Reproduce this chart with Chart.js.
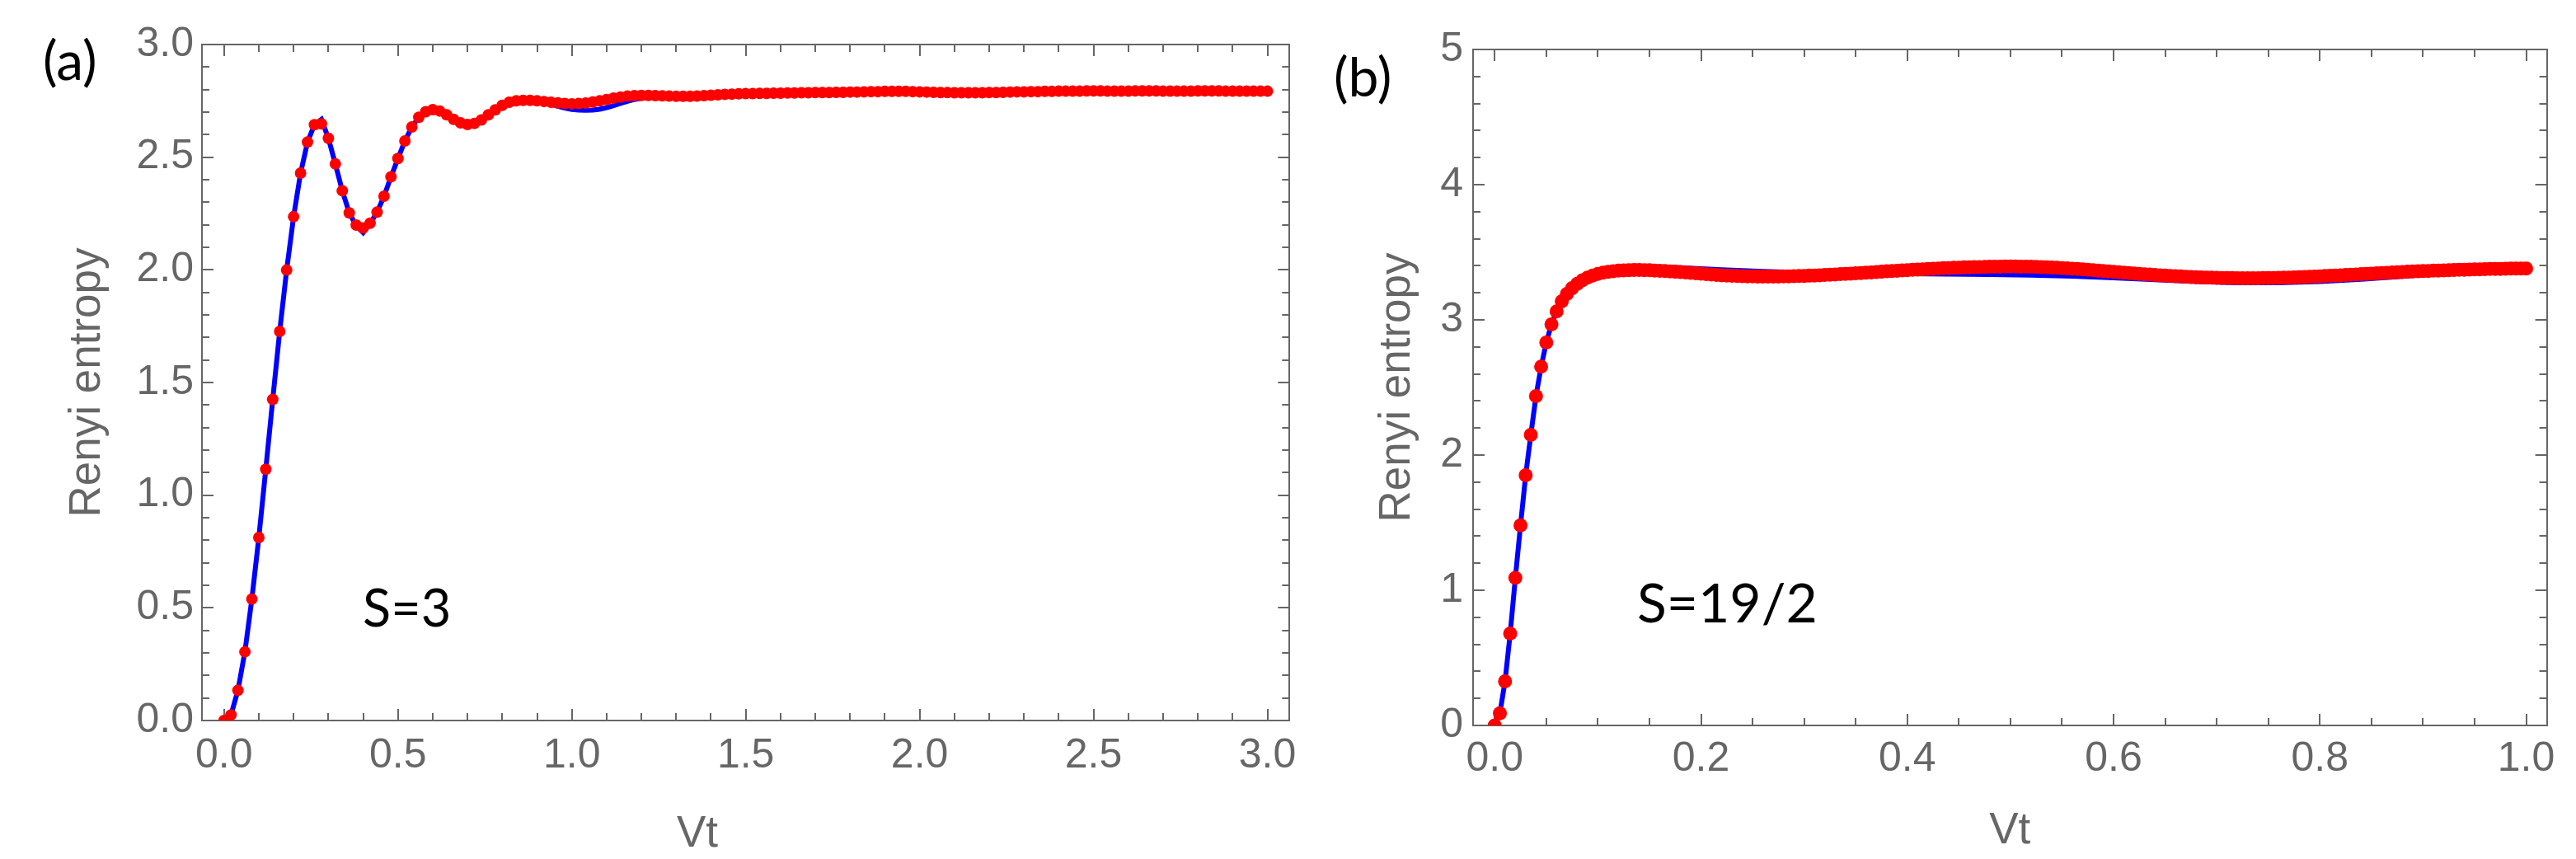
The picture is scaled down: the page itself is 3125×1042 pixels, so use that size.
<!DOCTYPE html>
<html>
<head>
<meta charset="utf-8">
<title>Renyi entropy vs Vt</title>
<script src="https://cdn.jsdelivr.net/npm/chart.js@4.4.1/dist/chart.umd.min.js"></script>
<style>
  html, body { margin: 0; padding: 0; background: #fff; }
  body { position: relative; width: 3125px; height: 1042px; overflow: hidden; }
  canvas { position: absolute; top: 0; }
</style>
</head>
<body>
<canvas id="chartA" width="1600" height="1042" style="left:0px"></canvas>
<canvas id="chartB" width="1525" height="1042" style="left:1600px"></canvas>
<script>
// ---- panel (a): S=3 ----
const vtA = [
  0, 0.02, 0.04, 0.06, 0.08, 0.1, 0.12, 0.14, 0.16, 0.18,
  0.2, 0.22, 0.24, 0.26, 0.28, 0.3, 0.32, 0.34, 0.36, 0.38,
  0.4, 0.42, 0.44, 0.46, 0.48, 0.5, 0.52, 0.54, 0.56, 0.58,
  0.6, 0.62, 0.64, 0.66, 0.68, 0.7, 0.72, 0.74, 0.76, 0.78,
  0.8, 0.82, 0.84, 0.86, 0.88, 0.9, 0.92, 0.94, 0.96, 0.98,
  1.0, 1.02, 1.04, 1.06, 1.08, 1.1, 1.12, 1.14, 1.16, 1.18,
  1.2, 1.22, 1.24, 1.26, 1.28, 1.3, 1.32, 1.34, 1.36, 1.38,
  1.4, 1.42, 1.44, 1.46, 1.48, 1.5, 1.52, 1.54, 1.56, 1.58,
  1.6, 1.62, 1.64, 1.66, 1.68, 1.7, 1.72, 1.74, 1.76, 1.78,
  1.8, 1.82, 1.84, 1.86, 1.88, 1.9, 1.92, 1.94, 1.96, 1.98,
  2.0, 2.02, 2.04, 2.06, 2.08, 2.1, 2.12, 2.14, 2.16, 2.18,
  2.2, 2.22, 2.24, 2.26, 2.28, 2.3, 2.32, 2.34, 2.36, 2.38,
  2.4, 2.42, 2.44, 2.46, 2.48, 2.5, 2.52, 2.54, 2.56, 2.58,
  2.6, 2.62, 2.64, 2.66, 2.68, 2.7, 2.72, 2.74, 2.76, 2.78,
  2.8, 2.82, 2.84, 2.86, 2.88, 2.9, 2.92, 2.94, 2.96, 2.98,
  3.0
];
// red dots (numerical)
const dotsA = [
  0, 0.025, 0.134, 0.305, 0.539, 0.812, 1.115, 1.425, 1.727, 1.999,
  2.236, 2.429, 2.567, 2.644, 2.648, 2.584, 2.470, 2.351, 2.253, 2.199,
  2.186, 2.207, 2.256, 2.327, 2.413, 2.494, 2.572, 2.634, 2.677, 2.702,
  2.711, 2.705, 2.688, 2.668, 2.652, 2.645, 2.650, 2.665, 2.688, 2.710,
  2.730, 2.744, 2.750, 2.752, 2.752, 2.750, 2.747, 2.744, 2.741, 2.738,
  2.737, 2.738, 2.740, 2.745, 2.750, 2.756, 2.762, 2.767, 2.771, 2.773,
  2.774, 2.774, 2.773, 2.772, 2.771, 2.770, 2.770, 2.770, 2.771, 2.773,
  2.775, 2.777, 2.779, 2.780, 2.781, 2.782, 2.782, 2.783, 2.783, 2.784,
  2.784, 2.785, 2.785, 2.786, 2.786, 2.787, 2.787, 2.787, 2.788, 2.788,
  2.789, 2.789, 2.790, 2.791, 2.791, 2.792, 2.792, 2.792, 2.792, 2.791,
  2.790, 2.789, 2.788, 2.787, 2.787, 2.786, 2.786, 2.786, 2.786, 2.786,
  2.787, 2.787, 2.788, 2.789, 2.790, 2.790, 2.791, 2.791, 2.792, 2.792,
  2.793, 2.793, 2.793, 2.793, 2.794, 2.794, 2.794, 2.793, 2.793, 2.793,
  2.793, 2.794, 2.794, 2.794, 2.794, 2.793, 2.793, 2.793, 2.793, 2.793,
  2.794, 2.794, 2.794, 2.794, 2.793, 2.793, 2.793, 2.793, 2.793, 2.793,
  2.793
];
// blue curve (exact)
const lineVtA = [
  0, 0.02, 0.04, 0.06, 0.08, 0.1, 0.12, 0.14, 0.16, 0.18,
  0.2, 0.22, 0.24, 0.26, 0.28, 0.3, 0.32, 0.34, 0.36, 0.38,
  0.4, 0.42, 0.44, 0.46, 0.48, 0.5, 0.52, 0.54, 0.56, 0.58,
  0.6, 0.62, 0.64, 0.66, 0.68, 0.7, 0.72, 0.74, 0.76, 0.78,
  0.8, 0.82, 0.84, 0.86, 0.88, 0.9, 0.92, 0.94, 0.96, 0.98,
  1.0, 1.02, 1.04, 1.06, 1.08, 1.1, 1.12, 1.14, 1.16, 1.18,
  1.2, 1.22, 1.24, 1.26, 1.28, 1.3, 1.32, 1.34, 1.36, 1.38,
  1.4, 1.42, 1.44, 1.46, 1.48, 1.5,
  1.6, 1.7, 1.8, 1.9, 2.0, 2.1, 2.2, 2.3, 2.4, 2.5, 2.6, 2.7, 2.8, 2.9, 3.0
];
const lineA = [
  0, 0.025, 0.134, 0.305, 0.539, 0.812, 1.115, 1.425, 1.727, 1.999,
  2.236, 2.429, 2.567, 2.645, 2.668, 2.584, 2.470, 2.351, 2.253, 2.195,
  2.165, 2.205, 2.256, 2.327, 2.413, 2.494, 2.572, 2.634, 2.677, 2.702,
  2.711, 2.705, 2.688, 2.668, 2.652, 2.645, 2.650, 2.665, 2.688, 2.710,
  2.730, 2.744, 2.750, 2.752, 2.751, 2.748, 2.742, 2.734, 2.726, 2.718,
  2.712, 2.709, 2.708, 2.709, 2.713, 2.720, 2.729, 2.739, 2.748, 2.756,
  2.762, 2.765, 2.766, 2.765, 2.763, 2.761, 2.760, 2.760, 2.762, 2.765,
  2.769, 2.773, 2.777, 2.779, 2.781, 2.782,
  2.784, 2.787, 2.789, 2.792, 2.790, 2.786, 2.787, 2.790, 2.793, 2.793, 2.793, 2.793, 2.793, 2.793, 2.793
];
const xTicksA = [0, 0.5, 1, 1.5, 2, 2.5, 3];
const xLabelsA = ['0.0', '0.5', '1.0', '1.5', '2.0', '2.5', '3.0'];
const yTicksA = [0, 0.5, 1, 1.5, 2, 2.5, 3];
const yLabelsA = ['0.0', '0.5', '1.0', '1.5', '2.0', '2.5', '3.0'];

// ---- panel (b): S=19/2 ----
const vtB = [
  0, 0.005, 0.01, 0.015, 0.02, 0.025, 0.03, 0.035, 0.04, 0.045, 0.05, 0.055, 0.06, 0.065, 0.07, 0.075, 0.08, 0.085, 0.09, 0.095,
  0.1, 0.105, 0.11, 0.115, 0.12, 0.125, 0.13, 0.135, 0.14, 0.145, 0.15, 0.155, 0.16, 0.165, 0.17, 0.175, 0.18, 0.185, 0.19, 0.195,
  0.2, 0.205, 0.21, 0.215, 0.22, 0.225, 0.23, 0.235, 0.24, 0.245, 0.25, 0.255, 0.26, 0.265, 0.27, 0.275, 0.28, 0.285, 0.29, 0.295,
  0.3, 0.305, 0.31, 0.315, 0.32, 0.325, 0.33, 0.335, 0.34, 0.345, 0.35, 0.355, 0.36, 0.365, 0.37, 0.375, 0.38, 0.385, 0.39, 0.395,
  0.4, 0.405, 0.41, 0.415, 0.42, 0.425, 0.43, 0.435, 0.44, 0.445, 0.45, 0.455, 0.46, 0.465, 0.47, 0.475, 0.48, 0.485, 0.49, 0.495,
  0.5, 0.505, 0.51, 0.515, 0.52, 0.525, 0.53, 0.535, 0.54, 0.545, 0.55, 0.555, 0.56, 0.565, 0.57, 0.575, 0.58, 0.585, 0.59, 0.595,
  0.6, 0.605, 0.61, 0.615, 0.62, 0.625, 0.63, 0.635, 0.64, 0.645, 0.65, 0.655, 0.66, 0.665, 0.67, 0.675, 0.68, 0.685, 0.69, 0.695,
  0.7, 0.705, 0.71, 0.715, 0.72, 0.725, 0.73, 0.735, 0.74, 0.745, 0.75, 0.755, 0.76, 0.765, 0.77, 0.775, 0.78, 0.785, 0.79, 0.795,
  0.8, 0.805, 0.81, 0.815, 0.82, 0.825, 0.83, 0.835, 0.84, 0.845, 0.85, 0.855, 0.86, 0.865, 0.87, 0.875, 0.88, 0.885, 0.89, 0.895,
  0.9, 0.905, 0.91, 0.915, 0.92, 0.925, 0.93, 0.935, 0.94, 0.945, 0.95, 0.955, 0.96, 0.965, 0.97, 0.975, 0.98, 0.985, 0.99, 0.995,
  1.0
];
const dotsB = [
  0, 0.09, 0.326, 0.68, 1.092, 1.48, 1.85, 2.15, 2.436, 2.654, 2.832, 2.966, 3.063, 3.137, 3.192, 3.234, 3.267, 3.293, 3.313, 3.328,
  3.340, 3.349, 3.355, 3.360, 3.364, 3.366, 3.368, 3.369, 3.369, 3.368, 3.367, 3.365, 3.363, 3.361, 3.358, 3.356, 3.353, 3.350, 3.347, 3.344,
  3.341, 3.338, 3.335, 3.332, 3.330, 3.328, 3.326, 3.324, 3.323, 3.322, 3.321, 3.320, 3.320, 3.320, 3.320, 3.320, 3.321, 3.322, 3.323, 3.324,
  3.325, 3.327, 3.328, 3.330, 3.332, 3.334, 3.336, 3.338, 3.340, 3.342, 3.344, 3.346, 3.349, 3.351, 3.354, 3.356, 3.359, 3.361, 3.363, 3.366,
  3.368, 3.370, 3.372, 3.374, 3.376, 3.378, 3.380, 3.382, 3.383, 3.385, 3.386, 3.388, 3.389, 3.390, 3.391, 3.392, 3.393, 3.394, 3.394, 3.395,
  3.395, 3.395, 3.394, 3.394, 3.393, 3.392, 3.391, 3.389, 3.387, 3.385, 3.383, 3.381, 3.378, 3.376, 3.373, 3.370, 3.367, 3.364, 3.361, 3.358,
  3.355, 3.352, 3.349, 3.346, 3.343, 3.340, 3.337, 3.335, 3.332, 3.330, 3.327, 3.325, 3.323, 3.321, 3.319, 3.317, 3.316, 3.314, 3.313, 3.312,
  3.311, 3.310, 3.309, 3.309, 3.308, 3.308, 3.308, 3.308, 3.308, 3.309, 3.309, 3.310, 3.311, 3.312, 3.313, 3.314, 3.316, 3.317, 3.319, 3.320,
  3.322, 3.324, 3.326, 3.328, 3.330, 3.332, 3.334, 3.336, 3.338, 3.340, 3.342, 3.344, 3.346, 3.348, 3.350, 3.352, 3.354, 3.356, 3.358, 3.359,
  3.361, 3.362, 3.364, 3.365, 3.366, 3.368, 3.369, 3.370, 3.371, 3.372, 3.373, 3.374, 3.375, 3.376, 3.377, 3.377, 3.378, 3.379, 3.379, 3.380,
  3.380
];
const lineVtB = [
  0, 0.005, 0.01, 0.015, 0.02, 0.025, 0.03, 0.035, 0.04, 0.045, 0.05, 0.055, 0.06, 0.065, 0.07,
  0.08, 0.09, 0.1, 0.12, 0.14, 0.16, 0.18, 0.2, 0.22, 0.24, 0.26, 0.28, 0.3, 0.32, 0.34, 0.36, 0.38, 0.4,
  0.44, 0.48, 0.52, 0.56, 0.6, 0.64, 0.68, 0.72, 0.76, 0.8, 0.84, 0.88, 0.92, 0.96, 1.0
];
const lineB = [
  0, 0.09, 0.326, 0.68, 1.092, 1.48, 1.85, 2.15, 2.436, 2.654, 2.832, 2.966, 3.063, 3.137, 3.195,
  3.272, 3.322, 3.352, 3.381, 3.390, 3.390, 3.385, 3.378, 3.371, 3.364, 3.358, 3.353, 3.349, 3.346, 3.344, 3.343, 3.342, 3.341,
  3.339, 3.336, 3.331, 3.323, 3.311, 3.297, 3.284, 3.275, 3.274, 3.283, 3.300, 3.322, 3.344, 3.363, 3.378
];
const xTicksB = [0, 0.2, 0.4, 0.6, 0.8, 1.0];
const xLabelsB = ['0.0', '0.2', '0.4', '0.6', '0.8', '1.0'];
const yTicksB = [0, 1, 2, 3, 4, 5];
const yLabelsB = ['0', '1', '2', '3', '4', '5'];

const GRAY = '#666666';
const RED = '#ff0000';
const BLUE = '#0000ff';
const SANS = "'Liberation Sans', Arial, sans-serif";
Chart.defaults.font.family = SANS;

// minor tick positions between the labelled ones
function steps(from, to, step) {
  const out = [];
  const n = Math.round((to - from) / step);
  for (let i = 0; i <= n; i++) out.push(Math.round((from + i * step) * 1000) / 1000);
  return out;
}

// one tick row (Mathematica style: ticks point into the frame)
function tickScale(o) {
  return {
    type: 'linear',
    position: o.position,
    weight: o.weight,
    bounds: 'data',
    min: o.min,
    max: o.max,
    afterBuildTicks: s => { s.ticks = o.values.map(v => ({ value: v })); },
    afterFit: s => { if (s.isHorizontal()) s.height = o.size; else s.width = o.size; },
    grid: {
      display: true, drawOnChartArea: false, drawTicks: true,
      tickLength: -o.len, tickColor: GRAY, tickWidth: 2, color: GRAY, lineWidth: 2
    },
    border: { display: !!o.border, color: GRAY, width: 2 },
    ticks: o.labels ? {
      display: true, autoSkip: false, maxRotation: 0, minRotation: 0,
      color: GRAY, font: { family: SANS, size: 50 }, padding: o.pad,
      callback: (v, i) => o.labels[i]
    } : { display: false },
    title: o.title ? {
      display: true, text: o.title, color: GRAY,
      font: { family: SANS, size: 53 }, padding: o.titlePad
    } : { display: false }
  };
}

function frame(p) {
  return {
    x:   tickScale({ position: 'bottom', weight: 1, min: p.xMin, max: p.xMax, values: p.xMajor, len: 14, size: p.bottom, border: true, labels: p.xLabels, pad: p.xPad, title: p.xTitle, titlePad: { top: 0, bottom: 2 } }),
    xm:  tickScale({ position: 'bottom', weight: 0, min: p.xMin, max: p.xMax, values: p.xMinor, len: 9, size: 0 }),
    xt:  tickScale({ position: 'top', weight: 1, min: p.xMin, max: p.xMax, values: p.xMajor, len: 14, size: p.top, border: true }),
    xtm: tickScale({ position: 'top', weight: 0, min: p.xMin, max: p.xMax, values: p.xMinor, len: 9, size: 0 }),
    y:   tickScale({ position: 'left', weight: 1, min: p.yMin, max: p.yMax, values: p.yMajor, len: 14, size: p.left, border: true, labels: p.yLabels, pad: p.yPad, title: 'Renyi entropy', titlePad: { top: p.yTitlePad, bottom: 0 } }),
    ym:  tickScale({ position: 'left', weight: 0, min: p.yMin, max: p.yMax, values: p.yMinor, len: 9, size: 0 }),
    yr:  tickScale({ position: 'right', weight: 1, min: p.yMin, max: p.yMax, values: p.yMajor, len: 14, size: p.right, border: true }),
    yrm: tickScale({ position: 'right', weight: 0, min: p.yMin, max: p.yMax, values: p.yMinor, len: 9, size: 0 })
  };
}

// panel letters, spin labels (and the shifted Vt of panel a)
const notesPlugin = {
  id: 'notes',
  afterDraw(chart, args, opts) {
    const ctx = chart.ctx;
    ctx.save();
    ctx.textBaseline = 'alphabetic';
    (opts.items || []).forEach(n => {
      ctx.fillStyle = n.color || '#000';
      ctx.textAlign = n.align || 'left';
      ctx.font = n.size + 'px ' + (n.family || 'Lato, "Open Sans", sans-serif');
      ctx.fillText(n.text, n.x, n.y);
    });
    ctx.restore();
  }
};

function makeChart(id, p) {
  const dots = p.dotX.map((t, i) => ({ x: t, y: p.dotY[i] }));
  const line = p.lineX.map((t, i) => ({ x: t, y: p.lineY[i] }));
  return new Chart(document.getElementById(id), {
    type: 'scatter',
    data: {
      datasets: [
        { label: 'numerical', data: dots, showLine: false, order: 0, clip: 0,
          pointRadius: p.dotR, pointHoverRadius: p.dotR, pointBorderWidth: 0,
          pointBackgroundColor: RED, backgroundColor: RED, borderColor: RED },
        { label: 'exact', data: line, showLine: true, order: 1, clip: 0,
          pointRadius: 0, borderColor: BLUE, backgroundColor: BLUE, borderWidth: 6, tension: 0 }
      ]
    },
    options: {
      responsive: false,
      animation: false,
      devicePixelRatio: 1,
      events: [],
      layout: { padding: 0, autoPadding: false },
      plugins: {
        legend: { display: false },
        tooltip: { enabled: false },
        notes: { items: p.notes }
      },
      scales: frame(p)
    },
    plugins: [notesPlugin]
  });
}

makeChart('chartA', {
  dotX: vtA, dotY: dotsA, lineX: lineVtA, lineY: lineA, dotR: 7,
  xMin: -0.0635, xMax: 3.0635, yMin: 0, yMax: 3,
  xMajor: xTicksA, xLabels: xLabelsA, xMinor: steps(0, 3, 0.1),
  yMajor: yTicksA, yLabels: yLabelsA, yMinor: steps(0, 3, 0.1),
  left: 245, right: 26, top: 52, bottom: 168,
  xPad: 27, yPad: 24, yTitlePad: 75, xTitle: '',
  notes: [
    { text: '(a)', x: 52, y: 97, size: 66 },
    { text: 'S=3', x: 440, y: 760, size: 63 },
    { text: 'Vt', x: 846, y: 1027, size: 53, align: 'center', color: GRAY, family: SANS }
  ]
});

makeChart('chartB', {
  dotX: vtB, dotY: dotsB, lineX: lineVtB, lineY: lineB, dotR: 8.5,
  xMin: -0.021, xMax: 1.02, yMin: 0, yMax: 5,
  xMajor: xTicksB, xLabels: xLabelsB, xMinor: steps(0, 1, 0.05),
  yMajor: yTicksB, yLabels: yLabelsB, yMinor: steps(0, 5, 0.2),
  left: 187, right: 12, top: 60, bottom: 162,
  xPad: 25, yPad: 26, yTitlePad: 64, xTitle: 'Vt',
  notes: [
    { text: '(b)', x: 18, y: 117, size: 66 },
    { text: 'S=19/2', x: 386, y: 755, size: 66 }
  ]
});
</script>
</body>
</html>
